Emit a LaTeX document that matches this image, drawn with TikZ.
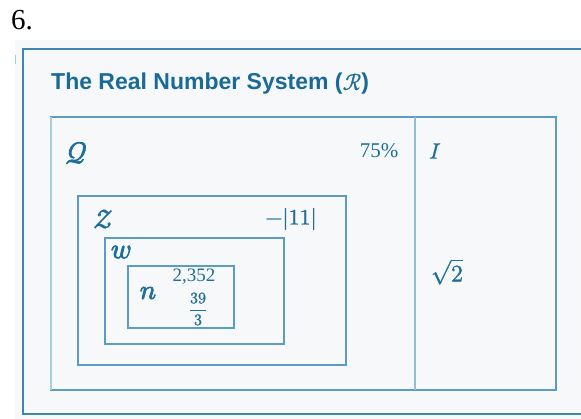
\documentclass[tikz,border=0pt]{standalone}
\usepackage{fontspec}
\usepackage{unicode-math}
\setmainfont{Liberation Serif}
\setmathfont{Latin Modern Math}[FakeBold=1]
\setmathfont{Latin Modern Math}[version=bold,FakeBold=3]
\newfontfamily\titlefont{Liberation Sans}
\definecolor{panel}{HTML}{F6F8F9}
\definecolor{frameblue}{HTML}{3F86B2}
\definecolor{boxblue}{HTML}{5A9CC4}
\definecolor{lightblue}{HTML}{A9CDE0}
\definecolor{txtblue}{HTML}{1F6E99}
\definecolor{titleblue}{HTML}{1A6A98}
\tikzset{
  setbox/.style={draw=boxblue, line width=1.2pt},
  lbl/.style={text=txtblue, inner sep=0pt, anchor=center},
}
\begin{document}
\begin{tikzpicture}[x=1pt,y=-1pt]
\useasboundingbox (0,0) rectangle (581,418);
\clip (0,0) rectangle (581,418);
% panel
\fill[panel] (15,40) rectangle (590,430);
\draw[lightblue, line width=1pt] (15.5,55) -- (15.5,64);
% outer frame
\draw[frameblue, line width=2pt] (600,49) -- (23,49) -- (23,414) -- (600,414);
% problem number
\node[inner sep=0pt, font=\fontsize{29}{32}\selectfont] (num) at (22,20) {6.};
% title
\node[lbl, anchor=west, font=\titlefont\bfseries\fontsize{23}{26}\selectfont, text=titleblue] (title) at (51,84) {The Real Number System ($\mathscr{R}$)};
% real numbers box
\draw[setbox] (51,117) rectangle (556,390);
\draw[lightblue, line width=1.2pt] (51,117) -- (51,390);
\draw[lightblue!70!boxblue, line width=1.2pt] (415,117) -- (415,390);
% integers, whole, natural
\draw[setbox] (78,196) rectangle (346,365);
\draw[setbox] (105,238) rectangle (284,344);
\draw[setbox] (128,266) rectangle (234,328);
% labels
\node[lbl, font=\boldmath\fontsize{30}{32}\selectfont] (Q) at (76,153) {$\mathscr{Q}$};
\node[lbl, font=\fontsize{21}{23}\selectfont] (pct) at (379,151) {75\%};
\node[lbl, font=\fontsize{22}{24}\selectfont] (I) at (435,151) {$I$};
\node[lbl, font=\fontsize{24}{26}\selectfont] (sq) at (447,272) {$\sqrt{2}$};
\node[lbl, font=\boldmath\fontsize{26}{28}\selectfont] (Z) at (103,219) {$\mathscr{Z}$};
\node[lbl, font=\fontsize{22}{24}\selectfont] (abs) at (291,219) {$-|11|$};
\node[lbl, font=\boldmath\fontsize{28}{30}\selectfont] (W) at (121,252) {$w$};
\node[lbl, font=\boldmath\fontsize{27}{29}\selectfont] (N) at (148,293) {$n$};
\node[lbl, font=\fontsize{19}{21}\selectfont] (big) at (194,277) {2,352};
\node[lbl, font=\fontsize{16}{18}\selectfont] (frac) at (198,309) {$\dfrac{39}{3}$};
\end{tikzpicture}
\end{document}
